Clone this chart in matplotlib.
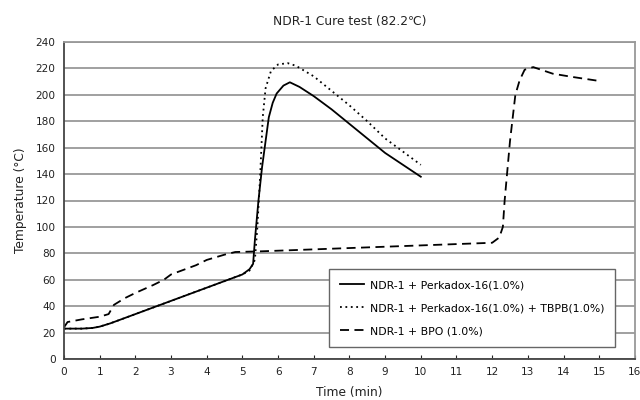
import matplotlib
matplotlib.use("Agg")
import matplotlib.pyplot as plt

plt.rcParams['font.family'] = ['DejaVu Sans']

# Series 1: NDR-1 + Perkadox-16(1.0%)
t1 = [0, 0.5, 0.8, 1.0, 1.3, 1.6, 2.0, 2.5, 3.0, 3.5, 4.0, 4.5, 5.0, 5.2, 5.3, 5.35, 5.45,
      5.55, 5.65, 5.74, 5.85, 5.96, 6.15, 6.33, 6.6, 7.0, 7.5, 8.0, 8.5, 9.0, 9.5, 10.0]
y1 = [23, 23, 23.5, 24.5, 27, 30, 34, 39, 44, 49, 54, 59, 64, 68, 72, 90, 120,
      145, 165, 183, 194, 201, 207, 209.5, 206, 199, 189, 178, 167, 156, 147, 138]

# Series 2: NDR-1 + Perkadox-16(1.0%) + TBPB(1.0%)
t2 = [0, 0.5, 0.8, 1.0, 1.3, 1.6, 2.0, 2.5, 3.0, 3.5, 4.0, 4.5, 5.0, 5.2, 5.35, 5.42, 5.5,
      5.57, 5.65, 5.8, 6.0, 6.27, 6.5, 7.0, 7.5, 8.0, 8.5, 9.0, 9.5, 10.0]
y2 = [23, 23, 23.5, 24.5, 27, 30, 34, 39, 44, 49, 54, 59, 64, 67, 75, 100, 140,
      183, 205, 218, 223, 224, 222, 214, 203, 192, 180, 167, 157, 147]

# Series 3: NDR-1 + BPO (1.0%)
t3 = [0, 0.1, 0.5, 1.0, 1.25, 1.4, 1.7, 2.0, 2.5, 2.8, 3.0, 3.3, 3.7, 4.0, 4.5, 4.8, 5.5,
      6.0, 7.0, 8.0, 9.0, 10.0, 11.0, 12.0, 12.2, 12.3, 12.35, 12.5, 12.65, 12.77, 12.91,
      13.15, 13.7, 14.26, 15.0]
y3 = [24, 28, 30, 32, 34, 41, 46, 50, 56, 60, 64, 67, 71, 75, 79, 81, 81.5,
      82, 83, 84, 85, 86, 87, 88, 92, 100, 120, 165, 200, 211, 219,
      221, 216, 213.5, 210.5]

labels = ["NDR-1 + Perkadox-16(1.0%)",
          "NDR-1 + Perkadox-16(1.0%) + TBPB(1.0%)",
          "NDR-1 + BPO (1.0%)"]
title = "NDR-1 Cure test (82.2\u2103)"
xlabel = "Time (min)"
ylabel = "Temperature (\u00b0C)"
xticks = list(range(0, 17))
yticks = list(range(0, 241, 20))

fig = plt.figure(figsize=(6.4, 4.0), dpi=100)
ax = fig.add_axes([0.1, 0.1025, 0.892, 0.7925])

ax.plot(t1, y1, color='black', lw=1.3, ls='-', label=labels[0])
ax.plot(t2, y2, color='black', lw=1.3, ls=(0, (1, 2)), label=labels[1])
ax.plot(t3, y3, color='black', lw=1.3, ls=(0, (5, 3)), label=labels[2])

ax.set_xlim(0, 16)
ax.set_ylim(0, 240)
ax.set_xticks(xticks)
ax.set_yticks(yticks)
ax.yaxis.grid(True, color='#999999', lw=1.3)
ax.set_axisbelow(True)
ax.tick_params(axis='x', direction='in', length=3, width=0.8, labelsize=7.6, pad=6, colors='#222222')
ax.tick_params(axis='y', length=0, labelsize=7.6, pad=6, colors='#222222')
for s in ['left', 'bottom']:
    ax.spines[s].set_color('#444444')
    ax.spines[s].set_linewidth(1.3)
for s in ['top', 'right']:
    ax.spines[s].set_color('#999999')
    ax.spines[s].set_linewidth(1.3)

ax.set_title(title, fontsize=8.8, pad=12, color='#222222')
ax.set_xlabel(xlabel, fontsize=8.8, labelpad=6, color='#222222')
ax.set_ylabel(ylabel, fontsize=8.8, labelpad=6, color='#222222')

leg = ax.legend(loc='lower right', bbox_to_anchor=(0.965, 0.038), borderaxespad=0,
                fontsize=7.8, frameon=True, fancybox=False, edgecolor='#666666',
                framealpha=1, handlelength=2.2, borderpad=1.0, labelspacing=1.2,
                handletextpad=0.55)
leg.get_frame().set_linewidth(1.0)

fig.savefig("out.png", dpi=100)
